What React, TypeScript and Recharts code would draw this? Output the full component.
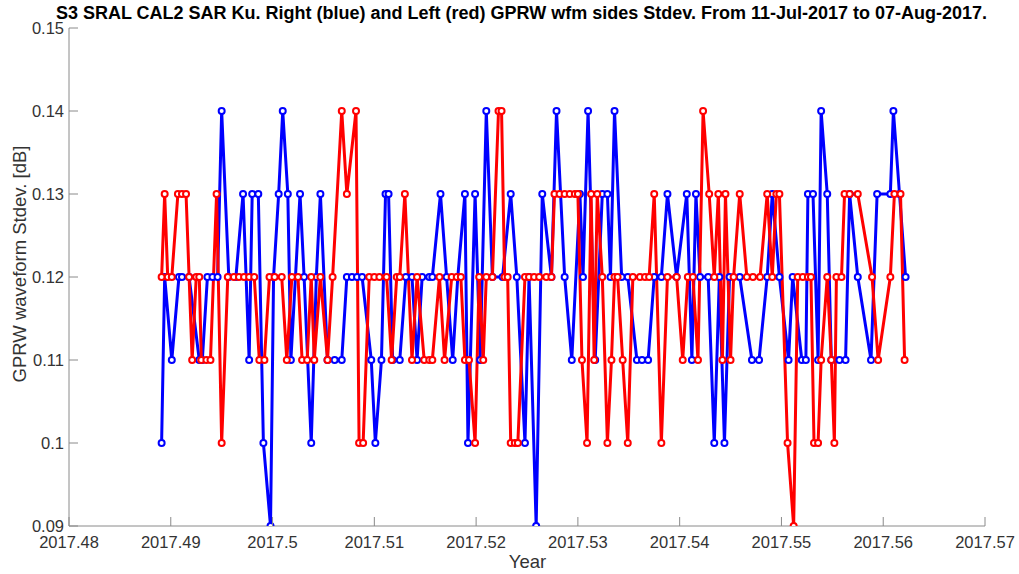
import { LineChart, Line, XAxis, YAxis } from 'recharts';

// Right side (blue) GPRW stdev per pass
const blueYear = [
  2017.4891, 2017.4894, 2017.4901, 2017.4908, 2017.4911, 2017.4918, 2017.4928, 2017.4931, 2017.4936, 2017.4941,
  2017.4946, 2017.495, 2017.4957, 2017.4964, 2017.4971, 2017.4977, 2017.498, 2017.4986, 2017.4991, 2017.4998,
  2017.5001, 2017.5006, 2017.501, 2017.5015, 2017.5018, 2017.5027, 2017.5031, 2017.5038, 2017.5043, 2017.5047,
  2017.5054, 2017.5061, 2017.5068, 2017.5073, 2017.5078, 2017.5083, 2017.5088, 2017.5097, 2017.5101, 2017.5107,
  2017.5111, 2017.5114, 2017.5118, 2017.5125, 2017.5131, 2017.5137, 2017.5142, 2017.5147, 2017.5154, 2017.5157,
  2017.5165, 2017.5171, 2017.5177, 2017.5182, 2017.5189, 2017.5192, 2017.5199, 2017.5204, 2017.521, 2017.5216,
  2017.5226, 2017.5234, 2017.524, 2017.5248, 2017.5252, 2017.5259, 2017.5265, 2017.5274, 2017.5279, 2017.5287,
  2017.5294, 2017.5302, 2017.5305, 2017.531, 2017.5317, 2017.5324, 2017.5329, 2017.5332, 2017.5336, 2017.5343,
  2017.5349, 2017.5358, 2017.5363, 2017.5369, 2017.5375, 2017.5382, 2017.5388, 2017.5397, 2017.5407, 2017.5412,
  2017.5416, 2017.542, 2017.5428, 2017.5434, 2017.5439, 2017.5444, 2017.5449, 2017.5459, 2017.5471, 2017.5478,
  2017.5486, 2017.5491, 2017.5498, 2017.5507, 2017.5511, 2017.552, 2017.5524, 2017.5526, 2017.5531, 2017.5536,
  2017.5539, 2017.5545, 2017.5549, 2017.5557, 2017.5563, 2017.5567, 2017.5575, 2017.5588, 2017.5594, 2017.5607,
  2017.561, 2017.5616, 2017.5622,
];
const blueStdev = [
  0.10, 0.12, 0.11, 0.12, 0.12, 0.12, 0.11, 0.11, 0.12, 0.12,
  0.12, 0.14, 0.12, 0.12, 0.13, 0.11, 0.13, 0.13, 0.10, 0.09,
  0.12, 0.13, 0.14, 0.13, 0.11, 0.13, 0.12, 0.10, 0.12, 0.13,
  0.11, 0.11, 0.11, 0.12, 0.12, 0.12, 0.12, 0.11, 0.10, 0.11,
  0.13, 0.13, 0.11, 0.11, 0.12, 0.12, 0.11, 0.12, 0.12, 0.12,
  0.13, 0.12, 0.11, 0.12, 0.13, 0.10, 0.13, 0.11, 0.14, 0.12,
  0.12, 0.13, 0.12, 0.10, 0.12, 0.09, 0.13, 0.12, 0.14, 0.12,
  0.11, 0.13, 0.12, 0.14, 0.11, 0.13, 0.13, 0.12, 0.14, 0.12,
  0.12, 0.11, 0.11, 0.11, 0.12, 0.12, 0.13, 0.12, 0.13, 0.11,
  0.13, 0.12, 0.12, 0.10, 0.12, 0.10, 0.12, 0.12, 0.11, 0.11,
  0.12, 0.13, 0.12, 0.11, 0.12, 0.11, 0.11, 0.13, 0.13, 0.11,
  0.14, 0.13, 0.11, 0.11, 0.11, 0.13, 0.12, 0.11, 0.13, 0.13,
  0.14, 0.13, 0.12,
];

// Left side (red)
const redYear = [
  2017.4891, 2017.4894, 2017.4897, 2017.4901, 2017.4907, 2017.4911, 2017.4915, 2017.4918, 2017.4921, 2017.4925,
  2017.4928, 2017.493, 2017.4935, 2017.4939, 2017.4945, 2017.495, 2017.4956, 2017.4962, 2017.4967, 2017.4972,
  2017.4977, 2017.4982, 2017.4987, 2017.4992, 2017.4997, 2017.5002, 2017.5009, 2017.5014, 2017.5019, 2017.5025,
  2017.5029, 2017.5034, 2017.5038, 2017.5041, 2017.5047, 2017.5054, 2017.5059, 2017.5068, 2017.5073, 2017.5082,
  2017.5085, 2017.5089, 2017.5095, 2017.51, 2017.5105, 2017.5112, 2017.5117, 2017.5122, 2017.5125, 2017.513,
  2017.5137, 2017.5142, 2017.5149, 2017.5154, 2017.5157, 2017.5164, 2017.5169, 2017.5176, 2017.5181, 2017.5185,
  2017.5189, 2017.5193, 2017.5199, 2017.5203, 2017.5207, 2017.521, 2017.5216, 2017.5222, 2017.5225, 2017.5228,
  2017.5231, 2017.5234, 2017.5238, 2017.5241, 2017.5248, 2017.5252, 2017.5257, 2017.5262, 2017.5269, 2017.5274,
  2017.5277, 2017.5282, 2017.5287, 2017.5292, 2017.5297, 2017.53, 2017.5304, 2017.5309, 2017.5313, 2017.5316,
  2017.5319, 2017.5324, 2017.5329, 2017.5333, 2017.5336, 2017.5339, 2017.5344, 2017.5349, 2017.5354, 2017.5361,
  2017.5366, 2017.537, 2017.5375, 2017.5382, 2017.5388, 2017.5397, 2017.5403, 2017.5408, 2017.5413, 2017.5418,
  2017.5423, 2017.5429, 2017.5434, 2017.5438, 2017.5442, 2017.5445, 2017.545, 2017.5453, 2017.5459, 2017.5466,
  2017.5472, 2017.5479, 2017.5486, 2017.5491, 2017.5495, 2017.5498, 2017.5506, 2017.5512, 2017.5516, 2017.5521,
  2017.5526, 2017.5529, 2017.5532, 2017.5536, 2017.5539, 2017.5545, 2017.5549, 2017.5552, 2017.5554, 2017.5559,
  2017.5562, 2017.5567, 2017.5575, 2017.5589, 2017.5595, 2017.5607, 2017.5611, 2017.5617, 2017.5621,
];
const redStdev = [
  0.12, 0.13, 0.12, 0.12, 0.13, 0.13, 0.13, 0.12, 0.11, 0.12,
  0.12, 0.11, 0.11, 0.11, 0.13, 0.10, 0.12, 0.12, 0.12, 0.12,
  0.12, 0.12, 0.11, 0.11, 0.12, 0.12, 0.12, 0.11, 0.12, 0.12,
  0.11, 0.11, 0.12, 0.11, 0.12, 0.11, 0.12, 0.14, 0.13, 0.14,
  0.10, 0.10, 0.12, 0.12, 0.12, 0.12, 0.11, 0.12, 0.12, 0.13,
  0.11, 0.12, 0.11, 0.11, 0.11, 0.12, 0.11, 0.12, 0.12, 0.12,
  0.11, 0.11, 0.10, 0.12, 0.11, 0.12, 0.12, 0.14, 0.14, 0.12,
  0.12, 0.10, 0.10, 0.10, 0.12, 0.12, 0.12, 0.12, 0.12, 0.12,
  0.13, 0.13, 0.13, 0.13, 0.13, 0.13, 0.11, 0.10, 0.13, 0.11,
  0.13, 0.12, 0.10, 0.11, 0.12, 0.12, 0.11, 0.10, 0.12, 0.12,
  0.12, 0.12, 0.13, 0.10, 0.12, 0.12, 0.11, 0.12, 0.12, 0.11,
  0.14, 0.13, 0.12, 0.13, 0.11, 0.13, 0.11, 0.12, 0.13, 0.12,
  0.12, 0.12, 0.13, 0.12, 0.13, 0.13, 0.10, 0.09, 0.12, 0.12,
  0.12, 0.12, 0.10, 0.10, 0.11, 0.12, 0.11, 0.10, 0.12, 0.12,
  0.13, 0.13, 0.13, 0.12, 0.11, 0.12, 0.13, 0.13, 0.11,
];

const xTicks = [2017.48, 2017.49, 2017.5, 2017.51, 2017.52, 2017.53, 2017.54, 2017.55, 2017.56, 2017.57];
const yTicks = [0.09, 0.1, 0.11, 0.12, 0.13, 0.14, 0.15];

const FONT = '"Liberation Sans", Arial, Helvetica, sans-serif';
const AXIS = '#8a8a8a';
const TEXT = '#333333';
const BLUE = '#0000ff';
const RED = '#ff0000';

const fmt = (v: number) => String(Number(v.toFixed(2)));

const blueData = blueYear.map((x, i) => ({ x, v: blueStdev[i] }));
const redData = redYear.map((x, i) => ({ x, v: redStdev[i] }));

// matlab-style ticks pointing into the axes
const XTick = ({ x, y, payload }: any) => (
  <g>
    <line x1={x} y1={y} x2={x} y2={y - 9} stroke={AXIS} />
    <text x={x} y={y + 22} textAnchor="middle" fill={TEXT} fontSize={16.5} fontFamily={FONT}>
      {fmt(payload.value)}
    </text>
  </g>
);

const YTick = ({ x, y, payload }: any) => (
  <g>
    <line x1={x} y1={y} x2={x + 9} y2={y} stroke={AXIS} />
    <text x={x - 5} y={y} dy="0.35em" textAnchor="end" fill={TEXT} fontSize={16.5} fontFamily={FONT}>
      {fmt(payload.value)}
    </text>
  </g>
);

export default function App() {
  return (
    <div style={{ position: 'relative', width: 1019, height: 574, background: '#fff', fontFamily: FONT }}>
      <style>{'body{margin:0}'}</style>
      <div
        style={{
          position: 'absolute', left: 0, width: 1043, top: 3, textAlign: 'center',
          fontWeight: 'bold', fontSize: 18, color: '#000', whiteSpace: 'nowrap',
        }}
      >
        S3 SRAL CAL2 SAR Ku. Right (blue) and Left (red) GPRW wfm sides Stdev. From 11-Jul-2017 to 07-Aug-2017.
      </div>
      <LineChart width={1019} height={574} margin={{ top: 28, right: 34, bottom: 0, left: 0 }}>
        <XAxis
          dataKey="x"
          type="number"
          domain={[2017.48, 2017.57]}
          ticks={xTicks}
          allowDataOverflow
          height={48}
          tickSize={0}
          tickMargin={0}
          tickLine={false}
          axisLine={{ stroke: AXIS }}
          tick={XTick}
          interval={0}
        />
        <YAxis
          type="number"
          domain={[0.09, 0.15]}
          ticks={yTicks}
          allowDataOverflow
          width={69}
          tickSize={0}
          tickMargin={0}
          tickLine={false}
          axisLine={{ stroke: AXIS }}
          tick={YTick}
          interval={0}
        />
        <Line
          data={blueData}
          dataKey="v"
          stroke={BLUE}
          strokeWidth={3}
          dot={{ r: 3, stroke: BLUE, strokeWidth: 2, fill: '#fff' }}
          isAnimationActive={false}
        />
        <Line
          data={redData}
          dataKey="v"
          stroke={RED}
          strokeWidth={3}
          dot={{ r: 3, stroke: RED, strokeWidth: 2, fill: '#fff' }}
          isAnimationActive={false}
        />
      </LineChart>
      <div
        style={{
          position: 'absolute', left: 0, width: 1055, top: 551, textAlign: 'center',
          fontSize: 18.5, color: TEXT,
        }}
      >
        Year
      </div>
      <div
        style={{
          position: 'absolute', left: 20, top: 264, transform: 'translate(-50%, -50%) rotate(-90deg)',
          fontSize: 18.5, color: TEXT, whiteSpace: 'nowrap',
        }}
      >
        GPRW waveform Stdev. [dB]
      </div>
    </div>
  );
}
